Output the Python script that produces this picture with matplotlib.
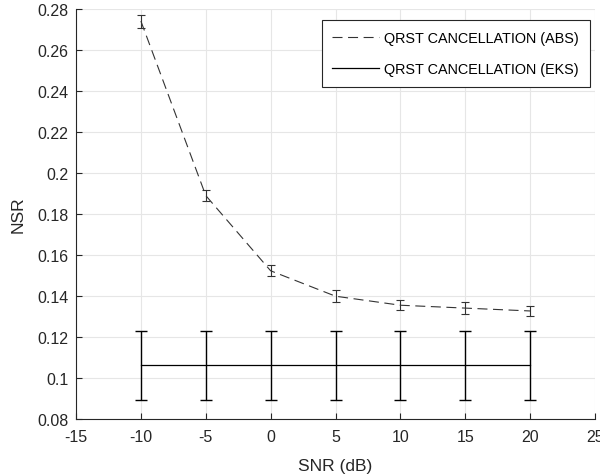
import matplotlib
matplotlib.use('Agg')
import matplotlib.pyplot as plt
import numpy as np

plt.rcParams['font.family'] = ['Liberation Sans', 'DejaVu Sans']

snr = [-10, -5, 0, 5, 10, 15, 20]
nsr_abs = [0.2741, 0.1890, 0.1523, 0.1399, 0.1355, 0.1341, 0.1327]
err_abs = [0.0032, 0.0028, 0.0026, 0.0028, 0.0025, 0.0028, 0.0023]
nsr_eks = [0.1063, 0.1063, 0.1063, 0.1063, 0.1063, 0.1063, 0.1063]
err_eks = [0.0168, 0.0168, 0.0168, 0.0168, 0.0168, 0.0168, 0.0168]

fig = plt.figure(figsize=(6.0, 4.77), dpi=100)
ax = fig.add_axes([0.1267, 0.1195, 0.865, 0.8595])

eb_abs = ax.errorbar(snr, nsr_abs, yerr=err_abs, color='#333333',
                     ls=(0, (9, 5)), lw=0.8, capsize=3, elinewidth=0.8,
                     capthick=0.8)
eb_eks = ax.errorbar(snr, nsr_eks, yerr=err_eks, color='black', ls='-',
                     lw=0.9, capsize=4, elinewidth=1.0, capthick=1.0)

ax.set_xlim(-15, 25)
ax.set_ylim(0.08, 0.28)
ax.set_xticks(np.arange(-15, 26, 5))
ax.set_yticks(np.arange(0.08, 0.281, 0.02))
ax.set_xticklabels(['-15', '-10', '-5', '0', '5', '10', '15', '20', '25'])
ax.set_yticklabels(['0.08', '0.1', '0.12', '0.14', '0.16', '0.18', '0.2',
                    '0.22', '0.24', '0.26', '0.28'])

ax.grid(True, color='#e6e6e6', lw=0.8)
ax.set_axisbelow(True)
for side in ['top', 'right']:
    ax.spines[side].set_visible(False)
for side in ['left', 'bottom']:
    ax.spines[side].set_color('#262626')
    ax.spines[side].set_linewidth(0.8)
ax.tick_params(direction='in', length=4, width=0.8, colors='#262626',
               labelsize=11.5)
ax.tick_params(axis='x', pad=7)
ax.tick_params(axis='y', pad=5.5)

ax.set_xlabel('SNR (dB)', fontsize=12.5, color='#262626', labelpad=10)
ax.set_ylabel('NSR', fontsize=12.5, color='#262626', labelpad=8)

leg = ax.legend(handles=[eb_abs[0], eb_eks[0]],
                labels=['QRST CANCELLATION (ABS)', 'QRST CANCELLATION (EKS)'],
                loc='upper right', bbox_to_anchor=(0.9904, 0.973),
                borderaxespad=0, fontsize=10.4,
                fancybox=False, framealpha=1, edgecolor='#262626',
                handlelength=3.2, handletextpad=0.4, borderpad=0.75,
                labelspacing=1.2)
leg.get_frame().set_linewidth(0.8)

fig.savefig('out.png', dpi=100)
